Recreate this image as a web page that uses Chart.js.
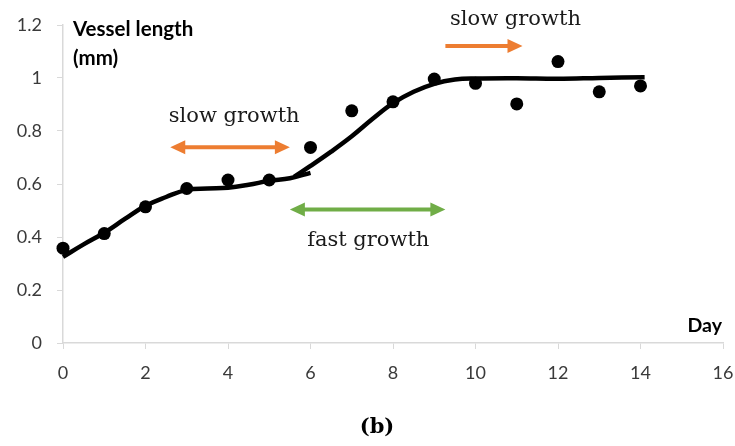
<!DOCTYPE html>
<html>
<head>
<meta charset="utf-8">
<script src="https://cdn.jsdelivr.net/npm/chart.js@4.4.0/dist/chart.umd.min.js"></script>
<style>
  body { margin: 0; background: #fff; }
  canvas { display: block; }
</style>
</head>
<body>
<canvas id="growth" width="735" height="446"></canvas>
<script>
// measured vessel length per day
const days = [0, 1, 2, 3, 4, 5, 6, 7, 8, 9, 10, 11, 12, 13, 14];
const vesselLength = [0.358, 0.413, 0.514, 0.583, 0.615, 0.615, 0.738, 0.876, 0.910, 0.996, 0.980, 0.902, 1.062, 0.948, 0.970];

// fitted trend, early phase
const fitDaysEarly = [0, 0.5, 1, 1.5, 2, 2.5, 3, 3.5, 4, 4.5, 5, 5.5, 6];
const fitLenEarly = [0.325, 0.372, 0.416, 0.468, 0.518, 0.551, 0.578, 0.583, 0.586, 0.597, 0.612, 0.622, 0.642];

// fitted trend, late phase
const fitDaysLate = [5.6, 6, 6.5, 7, 7.5, 8, 8.5, 9, 9.5, 10, 11, 12, 13, 14.1];
const fitLenLate = [0.627, 0.668, 0.722, 0.78, 0.845, 0.905, 0.948, 0.978, 0.994, 0.998, 0.999, 0.997, 1.0, 1.003];

const xTicks = [0, 2, 4, 6, 8, 10, 12, 14, 16];
const yTicks = [0, 0.2, 0.4, 0.6, 0.8, 1, 1.2];

const ORANGE = "#ed7d31";
const GREEN = "#70ad47";
const AXIS = "#d9d9d9";

// phase arrows in data units
const arrows = [
  { from: 2.6, to: 5.5, y: 0.739, color: ORANGE, both: true },
  { from: 5.5, to: 9.27, y: 0.504, color: GREEN, both: true },
  { from: 9.27, to: 11.14, y: 1.121, color: ORANGE, both: false },
];
const phaseLabels = [
  { text: "slow growth", x: 4.15, y: 0.853 },
  { text: "slow growth", x: 10.97, y: 1.22 },
  { text: "fast growth", x: 7.4, y: 0.388 },
];

const toPoints = (xs, ys) => xs.map((x, i) => ({ x: x, y: ys[i] }));

function drawArrowHead(ctx, x, y, dir) {
  ctx.beginPath();
  ctx.moveTo(x, y);
  ctx.lineTo(x - dir * 15, y - 7);
  ctx.lineTo(x - dir * 15, y + 7);
  ctx.closePath();
  ctx.fill();
}

const annotations = {
  id: "annotations",
  afterDraw(chart) {
    const { ctx, scales, chartArea } = chart;
    const xs = scales.x;
    const ys = scales.y;
    ctx.save();

    arrows.forEach((a) => {
      const x1 = xs.getPixelForValue(a.from);
      const x2 = xs.getPixelForValue(a.to);
      const y = ys.getPixelForValue(a.y);
      ctx.strokeStyle = a.color;
      ctx.fillStyle = a.color;
      ctx.lineWidth = 4;
      ctx.beginPath();
      ctx.moveTo(a.both ? x1 + 10 : x1, y);
      ctx.lineTo(x2 - 10, y);
      ctx.stroke();
      drawArrowHead(ctx, x2, y, 1);
      if (a.both) drawArrowHead(ctx, x1, y, -1);
    });

    ctx.fillStyle = "#1a1a1a";
    ctx.font = "21px 'DejaVu Serif'";
    ctx.textAlign = "center";
    ctx.textBaseline = "middle";
    phaseLabels.forEach((l) => {
      ctx.fillText(l.text, xs.getPixelForValue(l.x), ys.getPixelForValue(l.y));
    });

    // axis captions
    ctx.fillStyle = "#000";
    ctx.font = "bold 20.5px Lato";
    ctx.textAlign = "left";
    ctx.textBaseline = "alphabetic";
    ctx.fillText("Vessel length", chartArea.left + 10, 36);
    ctx.fillText("(mm)", chartArea.left + 10, 65);
    ctx.font = "bold 19.5px Lato";
    ctx.textAlign = "right";
    ctx.fillText("Day", chartArea.right - 1, 332);

    ctx.font = "bold 21px 'DejaVu Serif'";
    ctx.textAlign = "center";
    ctx.fillText("(b)", 377, 433);
    ctx.restore();
  },
};

new Chart(document.getElementById("growth"), {
  type: "scatter",
  data: {
    datasets: [
      {
        label: "Early trend",
        data: toPoints(fitDaysEarly, fitLenEarly),
        showLine: true,
        borderColor: "#000",
        borderWidth: 4.5,
        pointRadius: 0,
        tension: 0.4,
        clip: false,
      },
      {
        label: "Late trend",
        data: toPoints(fitDaysLate, fitLenLate),
        showLine: true,
        borderColor: "#000",
        borderWidth: 4.5,
        pointRadius: 0,
        tension: 0.4,
        clip: false,
      },
      {
        label: "Vessel length",
        data: toPoints(days, vesselLength),
        backgroundColor: "#000",
        borderColor: "#000",
        pointRadius: 6.5,
        pointBorderWidth: 0,
        clip: false,
      },
    ],
  },
  options: {
    responsive: false,
    animation: false,
    layout: { padding: { top: 25, right: 12, left: 0, bottom: 0 } },
    plugins: {
      legend: { display: false },
      tooltip: { enabled: false },
    },
    scales: {
      x: {
        type: "linear",
        min: 0,
        max: 16,
        afterFit: (s) => {
          s.height = 103;
          s.paddingLeft = 0;
          s.paddingRight = 0;
        },
        afterBuildTicks: (s) => { s.ticks = xTicks.map((v) => ({ value: v })); },
        grid: { drawOnChartArea: false, color: AXIS, tickLength: 6 },
        border: { color: AXIS, width: 1.5 },
        ticks: {
          color: "#3a3a3a",
          font: { family: "Lato", size: 18 },
          padding: 13,
          callback: (v) => String(v),
        },
      },
      y: {
        min: 0,
        max: 1.2,
        afterFit: (s) => {
          s.width = 63;
          s.paddingTop = 0;
          s.paddingBottom = 0;
        },
        afterBuildTicks: (s) => { s.ticks = yTicks.map((v) => ({ value: v })); },
        grid: { drawOnChartArea: false, color: AXIS, tickLength: 6 },
        border: { color: AXIS, width: 1.5 },
        ticks: {
          color: "#3a3a3a",
          font: { family: "Lato", size: 18 },
          padding: 15,
          callback: (v) => String(+v.toFixed(1)),
        },
      },
    },
  },
  plugins: [annotations],
});
</script>
</body>
</html>
